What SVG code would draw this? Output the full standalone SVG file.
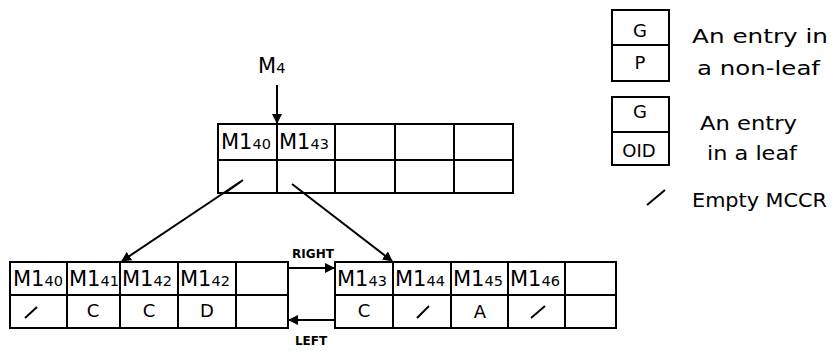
<svg xmlns="http://www.w3.org/2000/svg" width="832" height="351" viewBox="0 0 832 351">
<style>
.box{fill:none;stroke:#000;stroke-width:2}
.ln{stroke:#000;stroke-width:2;fill:none}
.t{font-family:"DejaVu Sans","Liberation Sans",sans-serif;fill:#000}
.m{font-size:21px}
.s{font-size:14.5px}
.v{font-size:18px}
.lg{font-size:19px}
.lb{font-size:12px;font-weight:bold}
</style>
<defs>
<marker id="ah" markerWidth="10" markerHeight="10" refX="9" refY="5" orient="auto" markerUnits="userSpaceOnUse">
<path d="M0,0 L10,5 L0,10 Z" fill="#000"/>
</marker>
</defs>
<rect width="832" height="351" fill="#fff"/>
<g id="label-M4"><text class="t m" x="258" y="73">M<tspan class="s">4</tspan></text></g>
<g id="node-top">
<rect class="box" x="218" y="124" width="295" height="69"/>
<path class="ln" d="M218,160H513M277,124V193M335,124V193M395,124V193M454,124V193"/>
<text class="t m" x="221" y="149">M1<tspan class="s">40</tspan></text>
<text class="t m" x="279" y="149">M1<tspan class="s">43</tspan></text>
</g>
<g id="node-left">
<rect class="box" x="10" y="262" width="278" height="66"/>
<path class="ln" d="M10,295H288M67,262V328M120,262V328M178,262V328M236,262V328"/>
<text class="t m" x="13" y="286">M1<tspan class="s">40</tspan></text>
<text class="t m" x="69" y="286">M1<tspan class="s">41</tspan></text>
<text class="t m" x="122" y="286">M1<tspan class="s">42</tspan></text>
<text class="t m" x="180" y="286">M1<tspan class="s">42</tspan></text>
<path class="ln" d="M25,318L37,307"/>
<text class="t v" x="93" y="317" text-anchor="middle">C</text>
<text class="t v" x="149" y="317" text-anchor="middle">C</text>
<text class="t v" x="207" y="317" text-anchor="middle">D</text>
</g>
<g id="node-right">
<rect class="box" x="335" y="262" width="281" height="66"/>
<path class="ln" d="M335,295H616M393,262V328M451,262V328M508,262V328M565,262V328"/>
<text class="t m" x="337" y="286">M1<tspan class="s">43</tspan></text>
<text class="t m" x="395" y="286">M1<tspan class="s">44</tspan></text>
<text class="t m" x="453" y="286">M1<tspan class="s">45</tspan></text>
<text class="t m" x="510" y="286">M1<tspan class="s">46</tspan></text>
<text class="t v" x="364" y="317" text-anchor="middle">C</text>
<path class="ln" d="M417,318L429,306"/>
<text class="t v" x="480" y="318" text-anchor="middle">A</text>
<path class="ln" d="M531,318L545,306"/>
</g>
<g id="connectors">
<path class="ln" d="M277,85V123" marker-end="url(#ah)"/>
<path class="ln" d="M225,193L243,180" />
<path class="ln" d="M240,182L122,261" marker-end="url(#ah)"/>
<path class="ln" d="M292,184L392,261" marker-end="url(#ah)"/>
<path class="ln" d="M288,268H334" marker-end="url(#ah)"/>
<path class="ln" d="M335,320H289" marker-end="url(#ah)"/>
<text class="t lb" x="313" y="258" text-anchor="middle">RIGHT</text>
<text class="t lb" x="311" y="345" text-anchor="middle">LEFT</text>
</g>
<g id="legend">
<rect class="box" x="612" y="10" width="57" height="71"/>
<path class="ln" d="M612,45H669"/>
<text class="t v" x="640" y="37" text-anchor="middle">G</text>
<text class="t v" x="640" y="69" text-anchor="middle">P</text>
<text class="t lg" x="692" y="43" textLength="136" lengthAdjust="spacingAndGlyphs">An entry in</text>
<text class="t lg" x="697" y="75" textLength="123" lengthAdjust="spacingAndGlyphs">a non-leaf</text>
<rect class="box" x="612" y="97" width="57" height="68"/>
<path class="ln" d="M612,132H669"/>
<text class="t v" x="640" y="118" text-anchor="middle">G</text>
<text class="t v" x="639" y="157" text-anchor="middle">OID</text>
<text class="t lg" x="700" y="130" textLength="97" lengthAdjust="spacingAndGlyphs">An entry</text>
<text class="t lg" x="707" y="160" textLength="90" lengthAdjust="spacingAndGlyphs">in a leaf</text>
<path class="ln" d="M647,205L665,190"/>
<text class="t lg" x="692" y="207" textLength="135" lengthAdjust="spacingAndGlyphs">Empty MCCR</text>
</g>
</svg>
